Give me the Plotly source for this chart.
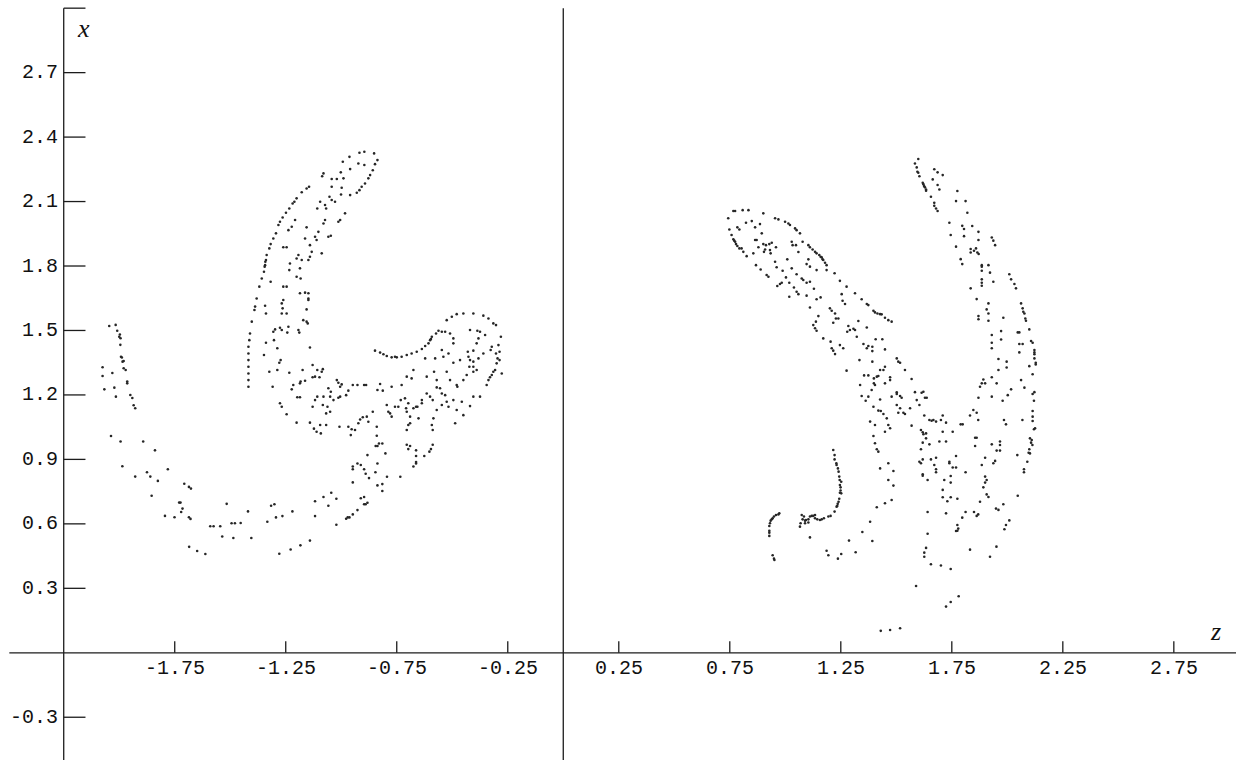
import plotly.graph_objects as go

# ---- axis ticks -----------------------------------------------------------
z_ticks = [-1.75, -1.25, -0.75, -0.25, 0.25, 0.75, 1.25, 1.75, 2.25, 2.75]
x_ticks = [-0.3, 0.3, 0.6, 0.9, 1.2, 1.5, 1.8, 2.1, 2.4, 2.7]
x_top = 3.0          # end of the vertical axes (tick, no label)
z_left_axis = -2.25  # position of the labelled vertical axis

# ---- section points, (z, x) ----------------------------------------------
# left section (z < 0)
left_tail_upper = [
    (-2.045, 1.521), (-2.016, 1.526), (-2.009, 1.499), (-1.997, 1.481), (-2.000, 1.471),
    (-1.994, 1.464), (-1.995, 1.433), (-1.992, 1.378), (-1.988, 1.374), (-1.985, 1.355),
    (-1.980, 1.358), (-1.980, 1.324), (-1.971, 1.316), (-2.075, 1.329), (-2.031, 1.302),
    (-2.075, 1.288), (-1.964, 1.262), (-1.964, 1.254), (-2.067, 1.226), (-2.022, 1.234),
    (-2.015, 1.192), (-1.950, 1.200), (-1.941, 1.186), (-1.935, 1.152), (-1.928, 1.138),
]
left_tail_lower = [
    (-2.037, 1.009), (-1.994, 0.983), (-1.892, 0.983), (-1.839, 0.942), (-1.986, 0.868),
    (-1.928, 0.820), (-1.875, 0.840), (-1.860, 0.820), (-1.826, 0.800), (-1.781, 0.854),
    (-1.707, 0.787), (-1.686, 0.772), (-1.677, 0.764), (-1.854, 0.731), (-1.730, 0.699),
    (-1.724, 0.699), (-1.715, 0.671), (-1.721, 0.655), (-1.794, 0.637), (-1.751, 0.631),
    (-1.686, 0.631), (-1.679, 0.623), (-1.590, 0.589), (-1.575, 0.589), (-1.545, 0.589),
    (-1.494, 0.603), (-1.479, 0.603), (-1.516, 0.693), (-1.536, 0.541), (-1.486, 0.534),
    (-1.685, 0.493), (-1.649, 0.474), (-1.612, 0.460),
]
left_outer_arc = [
    (-0.918, 2.327), (-0.896, 2.332), (-0.852, 2.324), (-0.963, 2.308), (-0.993, 2.285),
    (-0.923, 2.277), (-0.896, 2.270), (-0.837, 2.293), (-0.848, 2.274), (-0.858, 2.246),
    (-0.870, 2.223), (-0.878, 2.208), (-0.893, 2.184), (-0.908, 2.169), (-0.918, 2.153),
    (-0.930, 2.141), (-0.960, 2.251), (-1.002, 2.236), (-1.080, 2.231), (-1.086, 2.218),
    (-1.043, 2.205), (-1.020, 2.205), (-1.043, 2.169), (-0.998, 2.164), (-1.178, 2.143),
    (-1.156, 2.161), (-1.145, 2.169), (-1.201, 2.115), (-1.211, 2.099), (-1.219, 2.091),
    (-1.234, 2.068), (-1.249, 2.048), (-1.264, 2.026), (-1.276, 2.006), (-1.283, 1.991),
    (-1.294, 1.952), (-1.306, 1.928), (-1.318, 1.902), (-1.324, 1.882), (-1.336, 1.851),
    (-1.339, 1.828), (-1.342, 1.820), (-1.343, 1.804), (-1.345, 1.797), (-1.348, 1.773),
    (-1.358, 1.742), (-1.369, 1.704), (-1.381, 1.649), (-1.388, 1.611), (-1.391, 1.595),
    (-1.403, 1.541), (-1.411, 1.486), (-1.414, 1.455), (-1.418, 1.424), (-1.418, 1.393),
    (-1.418, 1.362), (-1.418, 1.331), (-1.418, 1.300), (-1.418, 1.269), (-1.418, 1.238),
]
left_inner = [
    (-0.990, 2.208), (-1.001, 2.133), (-0.960, 2.130), (-1.053, 2.122), (-1.043, 2.107),
    (-1.028, 2.099), (-1.095, 2.099), (-1.073, 2.084), (-1.108, 2.068), (-1.068, 2.068),
    (-0.983, 2.045), (-1.005, 2.014), (-1.013, 2.006), (-1.073, 2.014), (-1.080, 1.998),
    (-1.208, 2.014), (-1.223, 1.983), (-1.238, 1.967), (-1.156, 1.980), (-1.103, 1.959),
    (-1.118, 1.936), (-1.111, 1.921), (-1.058, 1.936), (-1.047, 1.941), (-1.163, 1.928),
    (-1.246, 1.887), (-1.261, 1.887), (-1.141, 1.897), (-1.133, 1.866), (-1.141, 1.843),
    (-1.088, 1.859), (-1.193, 1.851), (-1.201, 1.835), (-1.178, 1.828), (-1.231, 1.812),
    (-1.148, 1.828), (-1.186, 1.789), (-1.234, 1.781), (-1.201, 1.750), (-1.183, 1.742),
    (-1.261, 1.704), (-1.246, 1.704), (-1.318, 1.727), (-1.186, 1.673), (-1.163, 1.676),
    (-1.148, 1.673), (-1.148, 1.649), (-1.148, 1.642), (-1.156, 1.598), (-1.261, 1.642),
    (-1.268, 1.626), (-1.264, 1.603), (-1.268, 1.579), (-1.246, 1.579), (-1.343, 1.615),
    (-1.339, 1.579), (-1.171, 1.548), (-1.156, 1.541), (-1.151, 1.533), (-1.193, 1.502),
    (-1.189, 1.490), (-1.238, 1.517), (-1.243, 1.490), (-1.276, 1.513), (-1.268, 1.502),
    (-1.298, 1.505), (-1.306, 1.494), (-1.303, 1.455), (-1.288, 1.417), (-1.339, 1.443),
    (-1.141, 1.421), (-1.348, 1.386), (-1.273, 1.362), (-1.279, 1.350), (-1.288, 1.316),
    (-1.324, 1.308), (-1.309, 1.238),
]
left_lower = [
    (-1.234, 1.303), (-1.216, 1.246), (-1.223, 1.226), (-1.183, 1.262), (-1.174, 1.316),
    (-1.129, 1.339), (-1.108, 1.316), (-1.098, 1.282), (-1.083, 1.320), (-1.088, 1.308),
    (-1.118, 1.285), (-1.129, 1.282), (-1.163, 1.266), (-1.186, 1.254), (-1.198, 1.189),
    (-1.186, 1.189), (-1.276, 1.161), (-1.268, 1.145), (-1.246, 1.110), (-1.201, 1.071),
    (-1.141, 1.071), (-1.123, 1.043), (-1.111, 1.029), (-1.095, 1.060), (-1.092, 1.021),
    (-1.068, 1.060), (-1.068, 1.114), (-1.062, 1.145), (-1.050, 1.122), (-1.083, 1.153),
    (-1.129, 1.145), (-1.118, 1.176), (-1.108, 1.192), (-1.080, 1.192), (-1.058, 1.231),
    (-1.047, 1.215), (-1.050, 1.192), (-1.035, 1.176), (-1.013, 1.187), (-1.005, 1.192),
    (-0.978, 1.199), (-0.968, 1.220), (-1.020, 1.269), (-1.013, 1.257), (-0.998, 1.249),
    (-1.005, 1.238), (-0.948, 1.246), (-0.927, 1.246), (-0.897, 1.246), (-0.888, 1.246),
    (-1.008, 1.052), (-0.968, 1.052), (-0.953, 1.040), (-0.938, 1.037), (-0.957, 1.013),
    (-0.923, 1.068), (-0.915, 1.086), (-0.903, 1.096), (-0.885, 1.099), (-0.878, 1.075),
    (-0.858, 1.122), (-0.840, 1.052), (-0.840, 1.010), (-0.825, 1.251), (-0.837, 1.223),
    (-0.813, 1.220), (-0.773, 1.238), (-0.728, 1.246), (-0.795, 1.153), (-0.788, 1.122),
    (-0.780, 1.114), (-0.773, 1.099), (-0.758, 1.145), (-0.743, 1.145), (-0.732, 1.176),
    (-0.713, 1.184), (-0.698, 1.161), (-0.708, 1.138), (-0.705, 1.122), (-0.675, 1.138),
    (-0.663, 1.145), (-0.657, 1.145), (-0.690, 1.099), (-0.698, 1.060), (-0.705, 1.037),
    (-0.690, 1.068), (-0.652, 1.091), (-0.637, 1.176), (-0.637, 1.161), (-0.615, 1.207),
    (-0.600, 1.192), (-0.588, 1.176), (-0.570, 1.130), (-0.585, 1.091), (-0.592, 1.060),
    (-0.588, 1.037), (-0.570, 1.269), (-0.555, 1.231), (-0.547, 1.207), (-0.532, 1.199),
    (-0.525, 1.168), (-0.495, 1.176), (-0.547, 1.153), (-0.517, 1.145), (-0.480, 1.130),
    (-0.457, 1.168), (-0.450, 1.106), (-0.487, 1.068), (-0.420, 1.148), (-0.405, 1.192),
    (-0.375, 1.192),
]
left_hook = [
    (-0.345, 1.246), (-0.337, 1.269), (-0.330, 1.282), (-0.322, 1.293), (-0.315, 1.308),
    (-0.307, 1.316), (-0.300, 1.347), (-0.296, 1.370), (-0.287, 1.401), (-0.292, 1.432),
    (-0.327, 1.409), (-0.322, 1.424), (-0.360, 1.393), (-0.382, 1.370), (-0.405, 1.355),
    (-0.420, 1.362), (-0.405, 1.331), (-0.390, 1.316), (-0.405, 1.308), (-0.423, 1.331),
    (-0.427, 1.378), (-0.430, 1.401), (-0.405, 1.406), (-0.390, 1.440), (-0.382, 1.463),
    (-0.375, 1.494), (-0.352, 1.479), (-0.465, 1.362), (-0.495, 1.350), (-0.517, 1.393),
    (-0.540, 1.378), (-0.547, 1.409), (-0.577, 1.370), (-0.495, 1.440), (-0.495, 1.463),
    (-0.510, 1.486), (-0.532, 1.494), (-0.547, 1.494), (-0.562, 1.499), (-0.573, 1.486),
    (-0.592, 1.471), (-0.596, 1.460), (-0.600, 1.455), (-0.607, 1.440), (-0.622, 1.428),
    (-0.637, 1.414), (-0.660, 1.401), (-0.683, 1.393), (-0.705, 1.386), (-0.728, 1.378),
    (-0.750, 1.375), (-0.758, 1.378), (-0.773, 1.375), (-0.795, 1.381), (-0.810, 1.389),
    (-0.825, 1.397), (-0.848, 1.406), (-0.622, 1.370), (-0.705, 1.285), (-0.675, 1.316),
    (-0.683, 1.277), (-0.582, 1.308), (-0.615, 1.285), (-0.570, 1.235), (-0.525, 1.308),
    (-0.510, 1.269), (-0.480, 1.246), (-0.477, 1.238), (-0.450, 1.269), (-0.435, 1.293),
    (-0.525, 1.548), (-0.502, 1.564), (-0.480, 1.576), (-0.450, 1.579), (-0.405, 1.579),
    (-0.360, 1.569), (-0.337, 1.556), (-0.315, 1.533), (-0.303, 1.525), (-0.420, 1.502),
    (-0.387, 1.499), (-0.281, 1.471), (-0.303, 1.393), (-0.287, 1.362), (-0.277, 1.300),
]
left_bottom = [
    (-0.830, 0.974), (-0.815, 0.974), (-0.845, 0.962), (-0.837, 0.962), (-0.705, 0.968),
    (-0.690, 0.962), (-0.698, 0.948), (-0.588, 0.968), (-0.596, 0.948), (-0.603, 0.936),
    (-0.663, 0.942), (-0.626, 0.916), (-0.663, 0.916), (-0.663, 0.888), (-0.663, 0.881),
    (-0.675, 0.867), (-0.882, 0.920), (-0.801, 0.928), (-0.837, 0.881), (-0.927, 0.881),
    (-0.912, 0.874), (-0.948, 0.867), (-0.948, 0.854), (-0.897, 0.854), (-0.890, 0.833),
    (-0.875, 0.813), (-0.846, 0.840), (-0.794, 0.819), (-0.734, 0.819), (-0.948, 0.793),
    (-0.837, 0.779), (-0.815, 0.785), (-0.815, 0.753), (-1.045, 0.745), (-1.080, 0.725),
    (-1.022, 0.717), (-1.118, 0.705), (-1.058, 0.684), (-0.897, 0.725), (-0.912, 0.719),
    (-0.882, 0.698), (-0.897, 0.691), (-0.890, 0.691), (-0.927, 0.664), (-0.948, 0.644),
    (-0.963, 0.630), (-0.971, 0.630), (-0.978, 0.624), (-1.118, 0.636), (-1.220, 0.658),
    (-1.265, 0.636), (-1.294, 0.630), (-1.316, 0.684), (-1.301, 0.691), (-1.420, 0.658),
    (-1.333, 0.610), (-1.453, 0.604), (-1.022, 0.596), (-1.141, 0.522), (-1.184, 0.500),
    (-1.228, 0.481), (-1.279, 0.461), (-1.405, 0.534),
]

# right section (z > 0)
right_loop = [
    (0.774, 2.056), (0.766, 2.056), (0.808, 2.060), (0.834, 2.060), (0.743, 2.022),
    (0.901, 2.045), (0.954, 2.022), (0.969, 2.017), (0.999, 2.006), (1.014, 1.998),
    (1.021, 1.991), (1.044, 1.975), (1.051, 1.967), (1.066, 1.952), (0.823, 2.001),
    (0.849, 2.009), (0.864, 1.980), (0.886, 1.995), (0.784, 1.980), (0.793, 1.970),
    (0.748, 1.970), (0.758, 1.944), (0.766, 1.924), (0.770, 1.918), (0.774, 1.913),
    (0.778, 1.902), (0.784, 1.893), (0.793, 1.882), (0.803, 1.882), (0.811, 1.866),
    (0.826, 1.846), (0.864, 1.921), (0.871, 1.921), (0.894, 1.952), (0.856, 1.859),
    (0.879, 1.887), (0.901, 1.902), (0.913, 1.897), (0.928, 1.902), (0.909, 1.877),
    (0.904, 1.866), (0.931, 1.874), (0.934, 1.859), (0.939, 1.908), (0.958, 1.887),
    (1.029, 1.913), (1.033, 1.897), (1.048, 1.897), (1.078, 1.913), (1.104, 1.897),
    (1.111, 1.887), (1.123, 1.877), (1.134, 1.866), (1.141, 1.859), (1.153, 1.851),
    (1.159, 1.843), (1.164, 1.840), (1.168, 1.831), (1.171, 1.828), (1.179, 1.815),
    (1.186, 1.804), (1.059, 1.865), (1.104, 1.831), (1.096, 1.809), (1.111, 1.797),
    (1.141, 1.781), (1.186, 1.781), (1.009, 1.831), (0.954, 1.820), (0.961, 1.794),
    (0.868, 1.804), (0.889, 1.784), (0.916, 1.758), (0.924, 1.750), (0.988, 1.778),
    (1.029, 1.789), (1.051, 1.762), (1.003, 1.747), (0.984, 1.722), (0.964, 1.707),
    (0.976, 1.716), (1.018, 1.722), (1.039, 1.700), (1.051, 1.680), (1.059, 1.669),
    (1.074, 1.742), (1.081, 1.735), (1.096, 1.722), (1.111, 1.727), (1.129, 1.694),
    (1.141, 1.645), (1.159, 1.654), (1.096, 1.662), (1.018, 1.657), (1.111, 1.607),
    (1.201, 1.603), (1.209, 1.592), (1.224, 1.579), (1.228, 1.556), (1.239, 1.556),
    (1.216, 1.536), (1.149, 1.567), (1.138, 1.541), (1.126, 1.525), (1.134, 1.510),
    (1.141, 1.499), (1.284, 1.521), (1.291, 1.502), (1.307, 1.508), (1.314, 1.502),
    (1.279, 1.494), (1.329, 1.544), (1.367, 1.514), (1.222, 1.766), (1.246, 1.731),
    (1.276, 1.704), (1.254, 1.669), (1.258, 1.638), (1.269, 1.623), (1.314, 1.673),
    (1.344, 1.645), (1.367, 1.623), (1.374, 1.618), (1.171, 1.463), (1.204, 1.448),
    (1.209, 1.417), (1.216, 1.406), (1.224, 1.390), (1.246, 1.432), (1.261, 1.417),
    (1.322, 1.471), (1.352, 1.437), (1.367, 1.417), (1.374, 1.428), (1.334, 1.362),
    (1.276, 1.313), (1.355, 1.291), (1.374, 1.291), (1.337, 1.246), (1.344, 1.195),
    (1.374, 1.192),
]
right_arm = [
    (1.599, 2.298), (1.584, 2.277), (1.592, 2.259), (1.595, 2.239), (1.599, 2.234),
    (1.604, 2.218), (1.619, 2.187), (1.622, 2.181), (1.625, 2.172), (1.629, 2.166),
    (1.634, 2.156), (1.634, 2.150), (1.671, 2.250), (1.686, 2.236), (1.709, 2.223),
    (1.664, 2.203), (1.686, 2.177), (1.694, 2.156), (1.656, 2.122), (1.671, 2.094),
    (1.671, 2.080), (1.679, 2.068), (1.686, 2.056), (1.775, 2.149), (1.769, 2.102),
    (1.812, 2.102), (1.820, 2.048), (1.739, 2.001), (1.797, 1.987), (1.805, 1.972),
    (1.842, 1.986), (1.745, 1.944), (1.805, 1.939), (1.870, 1.959), (1.870, 1.921),
    (1.769, 1.890), (1.835, 1.879), (1.835, 1.863), (1.850, 1.871), (1.859, 1.882),
    (1.865, 1.863), (1.871, 1.856), (1.930, 1.933), (1.937, 1.918), (1.945, 1.897),
    (1.790, 1.832), (1.797, 1.809), (1.885, 1.804), (1.885, 1.797), (1.885, 1.778),
    (1.915, 1.804), (1.922, 1.769), (1.885, 1.738), (1.885, 1.722), (1.885, 1.708),
    (1.937, 1.727), (2.009, 1.762), (2.017, 1.738), (2.032, 1.716), (2.039, 1.696),
    (1.835, 1.696), (1.862, 1.646), (1.915, 1.626), (1.907, 1.598), (1.915, 1.579),
    (1.870, 1.567), (1.870, 1.552), (1.915, 1.545), (1.982, 1.559), (2.062, 1.626),
    (2.069, 1.603), (2.072, 1.587), (2.077, 1.579), (2.081, 1.556), (2.084, 1.545),
    (2.099, 1.505), (2.047, 1.491), (2.054, 1.491), (1.972, 1.497), (2.054, 1.437),
    (2.069, 1.437), (2.107, 1.451), (2.114, 1.443), (1.972, 1.458), (1.930, 1.479),
    (1.930, 1.443), (1.930, 1.417), (2.054, 1.398), (2.122, 1.409), (2.122, 1.398),
    (2.122, 1.389), (2.122, 1.370), (2.128, 1.350), (2.128, 1.342), (2.099, 1.334),
    (2.114, 1.296), (1.997, 1.355), (1.960, 1.367), (1.997, 1.328), (1.960, 1.316),
    (1.930, 1.282), (1.892, 1.272), (1.885, 1.254), (1.900, 1.254), (1.877, 1.238),
    (1.952, 1.254), (2.062, 1.269), (2.077, 1.234), (2.017, 1.226), (2.122, 1.213),
    (2.114, 1.204), (2.002, 1.199), (1.930, 1.192), (1.870, 1.187),
    (1.397, 1.592), (1.404, 1.584), (1.415, 1.579), (1.427, 1.576), (1.434, 1.575),
    (1.449, 1.559), (1.464, 1.548), (1.479, 1.541),
    (1.407, 1.459), (1.437, 1.459), (1.392, 1.424), (1.392, 1.404), (1.449, 1.412),
    (1.392, 1.355), (1.502, 1.370), (1.509, 1.355), (1.517, 1.350), (1.539, 1.316),
    (1.449, 1.331), (1.442, 1.316), (1.427, 1.316), (1.399, 1.277), (1.412, 1.285),
    (1.419, 1.288), (1.472, 1.282), (1.472, 1.269), (1.399, 1.254), (1.404, 1.246),
    (1.389, 1.223), (1.449, 1.254), (1.569, 1.274), (1.584, 1.213), (1.614, 1.210),
    (1.622, 1.215), (1.629, 1.187), (1.637, 1.187), (1.502, 1.212), (1.502, 1.204),
    (1.524, 1.187), (1.517, 1.195), (1.479, 1.192), (1.427, 1.179),
]
right_hooks = [
    (1.362, 1.173), (1.347, 0.562), (1.287, 0.522), (1.317, 0.468),
    (1.216, 0.944), (1.222, 0.920), (1.222, 0.900), (1.230, 0.882), (1.231, 0.874),
    (1.237, 0.858), (1.240, 0.843), (1.243, 0.820), (1.245, 0.804), (1.252, 0.796),
    (1.246, 0.781), (1.249, 0.770), (1.249, 0.755), (1.246, 0.745), (1.252, 0.742),
    (1.243, 0.717), (1.240, 0.703), (1.236, 0.693), (1.234, 0.683), (1.231, 0.680),
    (1.222, 0.657), (1.204, 0.637), (1.194, 0.634), (1.174, 0.626), (1.164, 0.621),
    (1.156, 0.618), (1.144, 0.621), (1.134, 0.626), (1.134, 0.641), (1.126, 0.637),
    (1.119, 0.637), (1.111, 0.634), (1.104, 0.621), (1.093, 0.618), (1.084, 0.634),
    (1.074, 0.641), (1.078, 0.621), (1.069, 0.603), (1.066, 0.587), (1.089, 0.603),
    (1.104, 0.606), (1.089, 0.615), (1.111, 0.537),
    (0.973, 0.649), (0.969, 0.644), (0.958, 0.641), (0.949, 0.634), (0.943, 0.626),
    (0.939, 0.621), (0.934, 0.615), (0.931, 0.603), (0.928, 0.590), (0.928, 0.568),
    (0.928, 0.559), (0.928, 0.544), (0.943, 0.454), (0.949, 0.438), (0.951, 0.432),
    (1.186, 0.475), (1.194, 0.454), (1.237, 0.438), (1.252, 0.460),
]
right_base = [
    (1.592, 1.176), (1.979, 1.173), (2.120, 1.173), (1.397, 1.145), (1.419, 1.127),
    (1.430, 1.125), (1.442, 1.111), (1.502, 1.153), (1.517, 1.138), (1.509, 1.117),
    (1.532, 1.117), (1.539, 1.111), (1.562, 1.138), (1.604, 1.153), (1.626, 1.104),
    (1.709, 1.104), (1.701, 1.083), (1.649, 1.083), (1.659, 1.080), (1.667, 1.083),
    (1.679, 1.076), (1.724, 1.071), (1.832, 1.104), (1.847, 1.130), (1.862, 1.117),
    (1.869, 1.083), (1.790, 1.063), (1.799, 1.063), (1.985, 1.083), (1.994, 1.063),
    (2.068, 1.083), (2.114, 1.125), (2.114, 1.099), (2.114, 1.079), (2.120, 1.040),
    (2.125, 1.045), (1.382, 1.076), (1.404, 1.060), (1.457, 1.091), (1.464, 1.060),
    (1.472, 1.045), (1.449, 1.029), (1.569, 1.057), (1.611, 1.037), (1.619, 1.026),
    (1.622, 1.017), (1.634, 1.021), (1.634, 0.998), (1.619, 0.978), (1.649, 0.970),
    (1.611, 0.947), (1.709, 1.029), (1.754, 1.029), (1.694, 0.983), (1.724, 0.983),
    (1.855, 1.001), (1.862, 1.001), (1.855, 0.962), (1.397, 1.009), (1.404, 0.975),
    (1.412, 0.947), (1.419, 0.936), (1.930, 0.970), (1.967, 0.983), (1.967, 0.967),
    (1.952, 0.941), (1.967, 0.941), (2.045, 0.920), (2.102, 0.998), (2.110, 0.990),
    (2.107, 0.978), (2.113, 0.967), (2.099, 0.947), (2.096, 0.931), (2.102, 0.928),
    (2.090, 0.889), (2.075, 0.854), (2.075, 0.840), (1.656, 0.900), (1.679, 0.908),
    (1.619, 0.900), (1.611, 0.882), (1.604, 0.889), (1.671, 0.874), (1.679, 0.854),
    (1.679, 0.840), (1.739, 0.889), (1.739, 0.882), (1.754, 0.862), (1.769, 0.862),
    (1.769, 0.916), (1.812, 0.840), (1.619, 0.831), (1.619, 0.824), (1.641, 0.804),
    (1.716, 0.804), (1.745, 0.823), (1.745, 0.792), (1.885, 0.874), (1.900, 0.908),
    (1.945, 0.893), (1.937, 0.882), (1.900, 0.820), (1.907, 0.804), (1.900, 0.792),
    (1.892, 0.770), (1.464, 0.882), (1.427, 0.858), (1.487, 0.846), (1.464, 0.804),
    (1.487, 0.778), (1.709, 0.758), (1.709, 0.724), (1.745, 0.724), (1.775, 0.717),
    (1.730, 0.705), (1.907, 0.737), (1.915, 0.725), (1.877, 0.703), (2.047, 0.731),
    (1.982, 0.691), (1.949, 0.671), (1.960, 0.665), (1.479, 0.711), (1.449, 0.696),
    (1.412, 0.677), (1.641, 0.655), (1.724, 0.649), (1.812, 0.655), (1.850, 0.655),
    (1.869, 0.644), (1.862, 0.637), (1.797, 0.629), (2.009, 0.616), (1.994, 0.595),
    (1.987, 0.575), (1.775, 0.595), (1.779, 0.578), (1.769, 0.567), (1.775, 0.568),
    (1.382, 0.610), (1.392, 0.520), (1.641, 0.554), (1.634, 0.488), (1.626, 0.466),
    (1.626, 0.447), (1.656, 0.412), (1.701, 0.406), (1.745, 0.390), (1.832, 0.480),
    (1.951, 0.494), (1.922, 0.447), (1.589, 0.311), (1.781, 0.263), (1.745, 0.236),
    (1.724, 0.215), (1.430, 0.102), (1.472, 0.106), (1.517, 0.114),
]

left_section = (left_tail_upper + left_tail_lower + left_outer_arc + left_inner
                + left_lower + left_hook + left_bottom)
right_section = right_loop + right_arm + right_hooks + right_base

AXIS_COLOR = "#1c1c1c"
DOT_COLOR = "#262626"
TICK_FONT = dict(family="Liberation Mono, DejaVu Sans Mono, monospace", size=20, color="#111")
LABEL_FONT = dict(family="Liberation Serif, DejaVu Serif, serif", size=26, color="#111")

fig = go.Figure()
for pts in (left_section, right_section):
    fig.add_trace(go.Scatter(
        x=[p[0] for p in pts], y=[p[1] for p in pts],
        mode="markers",
        marker=dict(size=2.6, color=DOT_COLOR, line=dict(width=0)),
        hoverinfo="skip", showlegend=False,
    ))

# plot ranges chosen so the axes sit where they should on the canvas
z_range = [-2.537, 3.030]
x_range = [-0.499, 3.038]
z_tick_len = 0.054   # vertical tick height (x units)
x_tick_len = 0.098   # horizontal tick length (z units)

shapes = []
line = dict(color=AXIS_COLOR, width=1.3)
# horizontal axis through x = 0
shapes.append(dict(type="line", xref="x", yref="y", x0=-2.495, x1=z_range[1],
                   y0=0, y1=0, line=line))
# labelled vertical axis and the z = 0 divider
for zpos in (z_left_axis, 0.0):
    shapes.append(dict(type="line", xref="x", yref="y", x0=zpos, x1=zpos,
                       y0=x_range[0], y1=x_top, line=line))
for t in z_ticks:
    shapes.append(dict(type="line", xref="x", yref="y", x0=t, x1=t,
                       y0=0, y1=z_tick_len, line=line))
for t in x_ticks + [x_top]:
    shapes.append(dict(type="line", xref="x", yref="y", x0=z_left_axis,
                       x1=z_left_axis + x_tick_len, y0=t, y1=t, line=line))

annotations = []
for t in z_ticks:
    annotations.append(dict(x=t, y=-0.071, xref="x", yref="y", text=f"{t:g}",
                            showarrow=False, xanchor="center", yanchor="middle",
                            font=TICK_FONT))
for t in x_ticks:
    annotations.append(dict(x=-2.268, y=t, xref="x", yref="y", text=f"{t:g}",
                            showarrow=False, xanchor="right", yanchor="middle",
                            font=TICK_FONT))
annotations.append(dict(x=-2.159, y=2.907, xref="x", yref="y", text="<i>x</i>",
                        showarrow=False, font=LABEL_FONT))
annotations.append(dict(x=2.936, y=0.097, xref="x", yref="y", text="<i>z</i>",
                        showarrow=False, font=LABEL_FONT))

fig.update_layout(
    width=1236, height=760,
    margin=dict(l=0, r=0, t=0, b=0),
    paper_bgcolor="white", plot_bgcolor="white",
    xaxis=dict(range=z_range, visible=False, fixedrange=True),
    yaxis=dict(range=x_range, visible=False, fixedrange=True),
    shapes=shapes, annotations=annotations,
)

fig.write_html("out.html")
